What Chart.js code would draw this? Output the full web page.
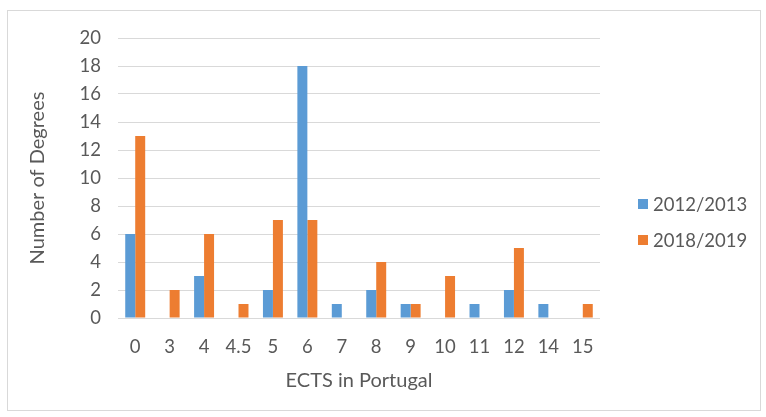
<!DOCTYPE html>
<html lang="en">
<head>
  <meta charset="UTF-8" />
  <title>ECTS in Portugal</title>
  <script src="https://cdn.jsdelivr.net/npm/chart.js"></script>
  <style>
    body { margin: 0; background: #fff; font-family: Lato, sans-serif; }
    #wrap { position: relative; width: 766px; height: 417px; }
    #frame { position: absolute; left: 7px; top: 10px; width: 752px; height: 399px; border: 1px solid #d9d9d9; }
    canvas { position: absolute; left: 0; top: 0; }
    #legend { position: absolute; left: 638px; top: 192px; color: #595959; font-size: 18.5px; }
    .item { display: flex; align-items: center; height: 24px; margin-bottom: 12px; }
    .box { width: 10px; height: 10px; margin-right: 5px; }
  </style>
</head>
<body>
  <div id="wrap">
    <div id="frame"></div>
    <canvas id="chart" width="766" height="417"></canvas>
    <div id="legend"></div>
  </div>

  <script>
    // data
    const categories = ["0", "3", "4", "4.5", "5", "6", "7", "8", "9", "10", "11", "12", "14", "15"];
    const seriesNames = ["2012/2013", "2018/2019"];
    const values2012 = [6, 0, 3, 0, 2, 18, 1, 2, 1, 0, 1, 2, 1, 0];
    const values2018 = [13, 2, 6, 1, 7, 7, 0, 4, 1, 3, 0, 5, 0, 1];
    const colors = ["#5B9BD5", "#ED7D31"];

    const textColor = "#595959";

    // legend on the right, drawn as html
    const legend = document.getElementById("legend");
    seriesNames.forEach((name, i) => {
      legend.innerHTML += `<div class="item"><div class="box" style="background:${colors[i]}"></div>${name}</div>`;
    });

    const ctx = document.getElementById("chart").getContext("2d");
    new Chart(ctx, {
      type: "bar",
      data: {
        labels: categories,
        datasets: [
          { label: seriesNames[0], data: values2012, backgroundColor: colors[0] },
          { label: seriesNames[1], data: values2018, backgroundColor: colors[1] },
        ],
      },
      options: {
        responsive: false,
        animation: false,
        datasets: { bar: { categoryPercentage: 0.58, barPercentage: 1 } },
        layout: { padding: { left: 26, right: 166, top: 38, bottom: 24 } },
        plugins: { legend: { display: false }, tooltip: { enabled: false } },
        scales: {
          x: {
            grid: { display: false },
            border: { display: false },
            ticks: { color: textColor, font: { family: "Lato", size: 18.5 }, padding: 10 },
            title: { display: true, text: "ECTS in Portugal", color: textColor, font: { family: "Lato", size: 20 }, padding: 0 },
            afterFit: (s) => { s.height = 75; },
          },
          y: {
            min: 0,
            max: 20,
            ticks: { stepSize: 2, color: textColor, font: { family: "Lato", size: 18.5 }, padding: 17 },
            grid: { color: "#d9d9d9", drawTicks: false },
            border: { display: false },
            title: { display: true, text: "Number of Degrees", color: textColor, font: { family: "Lato", size: 20 }, padding: 0 },
            afterFit: (s) => { s.width = 92; },
          },
        },
      },
    });
  </script>
</body>
</html>
